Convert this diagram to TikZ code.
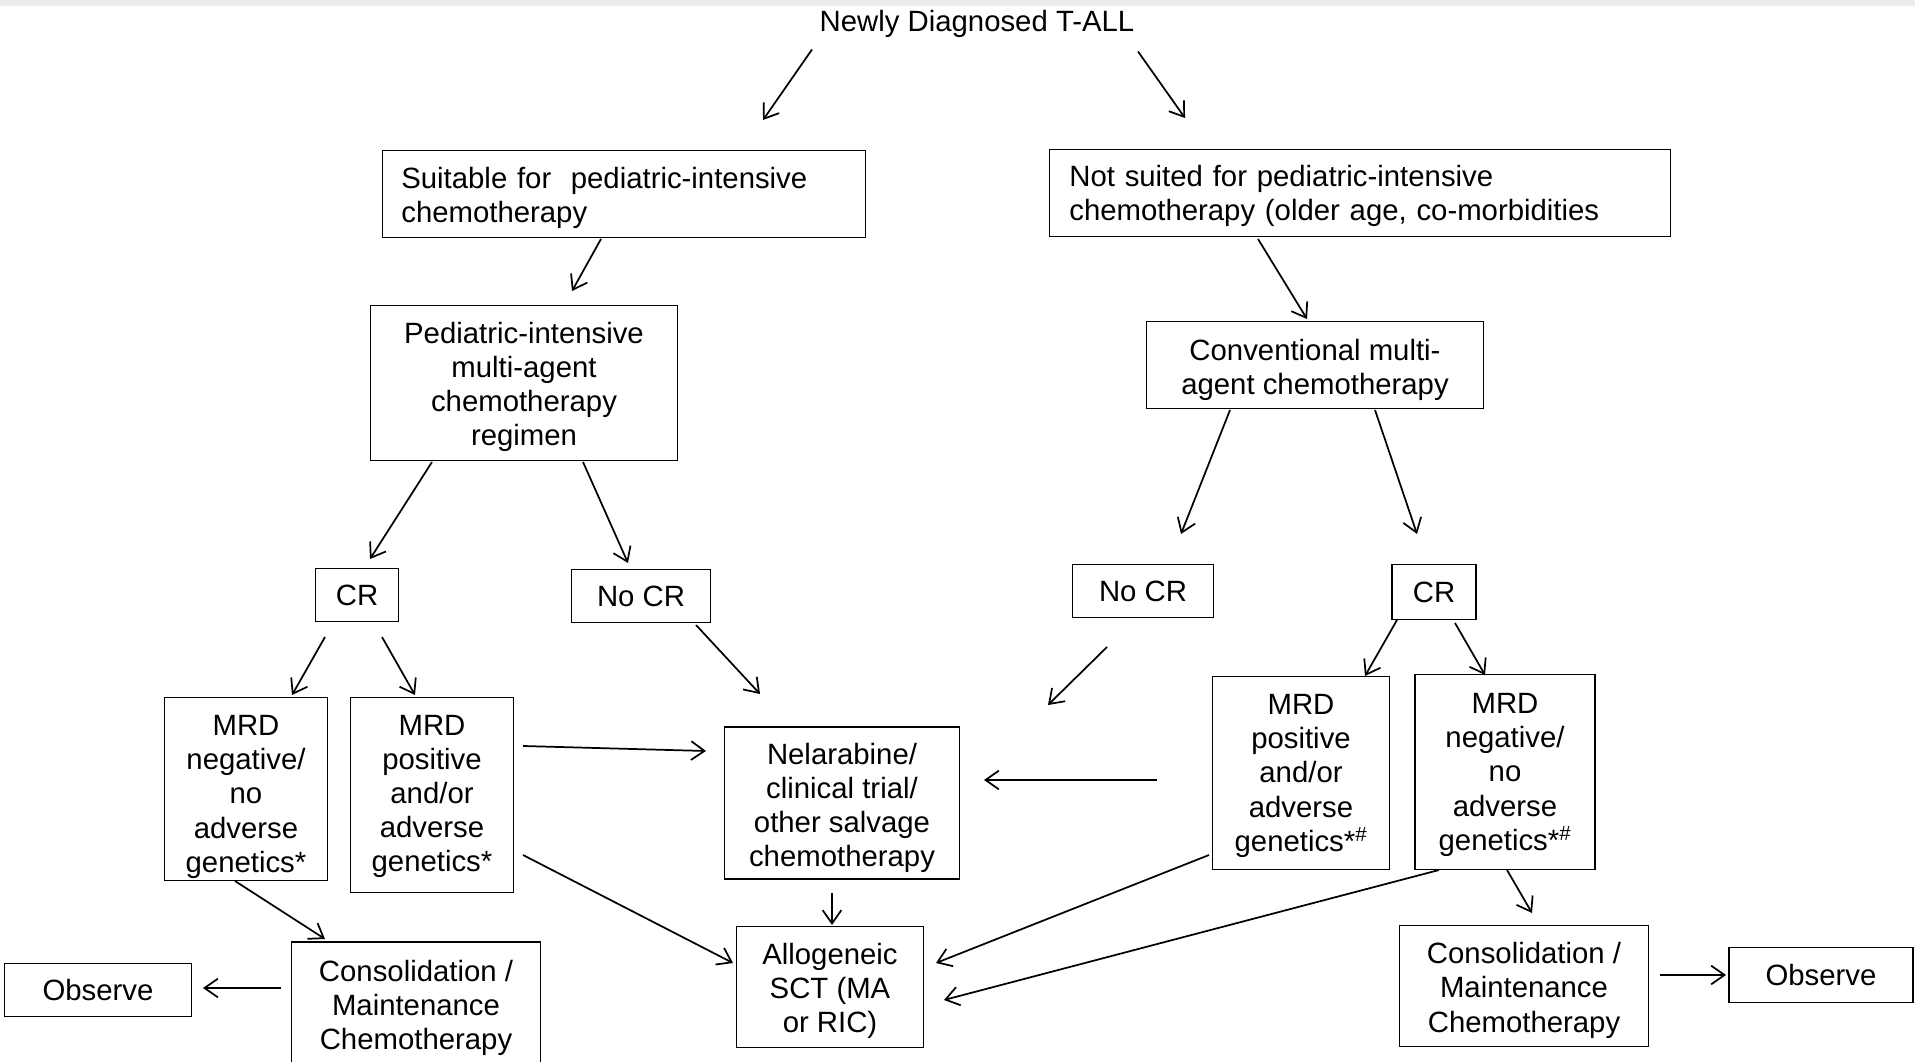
\documentclass[tikz,border=0pt]{standalone}
\usepackage{fontspec}
\setmainfont{Liberation Sans}
\usetikzlibrary{arrows.meta,calc}

\tikzset{
  box/.style={draw,line width=1pt,inner sep=0pt,align=center,font=\fontsize{22}{25.6}\selectfont},
  lbox/.style={box,align=left,inner xsep=14pt},
  arr/.style={line width=1.3pt,-{Straight Barb[length=10pt,width=14pt]}}
}
% strut to set the first line of a box a bit lower
\newcommand{\tp}[1]{\rule{0pt}{#1pt}}

\begin{document}
\begin{tikzpicture}[x=0.75pt,y=0.75pt,yscale=-1,xscale=1]
\useasboundingbox (0,0) rectangle (1915,1062);
%faint strip at the top
\fill [black!7] (0,0) rectangle (1915,6);

% Text Node
\node [font=\fontsize{22}{25.6}\selectfont,inner sep=0pt] (title) at (977,23.5) {Newly Diagnosed T-ALL};
% first split
\node [lbox,text width=334pt,minimum height=65pt] (suit) at (624,194) {\tp{22}Suitable for\ \ pediatric-intensive\\chemotherapy};
\node [lbox,text width=436pt,minimum height=65pt,inner xsep=15pt] (notsuit) at (1360,193) {\tp{20.5}Not suited for pediatric-intensive\\chemotherapy (older age, co-morbidities};
\node [box,minimum width=230pt,minimum height=116pt] (pedreg) at (524,383) {\tp{22}Pediatric-intensive\\multi-agent\\chemotherapy\\regimen};
\node [box,minimum width=253pt,minimum height=65pt] (conv) at (1315,365) {\tp{23.5}Conventional multi-\\agent chemotherapy};
% response
\node [box,minimum width=62pt,minimum height=40pt] (crL) at (357,595) {CR};
\node [box,minimum width=104pt,minimum height=40pt] (nocrL) at (641,596) {No CR};
\node [box,minimum width=106pt,minimum height=40pt] (nocrR) at (1143,591) {No CR};
\node [box,minimum width=63pt,minimum height=41pt] (crR) at (1434,592) {CR};
% MRD boxes
\node [box,minimum width=122pt,minimum height=137pt] (mrdnL) at (246,789) {\tp{27}MRD\\negative/\\no\\adverse\\genetics*};
\node [box,minimum width=122pt,minimum height=146pt] (mrdpL) at (432,795) {\tp{17.5}MRD\\positive\\and/or\\adverse\\genetics*};
\node [box,minimum width=133pt,minimum height=145pt] (mrdpR) at (1301,773) {\tp{19.4}MRD\\positive\\and/or\\adverse\\genetics*\textsuperscript{\#}};
\node [box,minimum width=135pt,minimum height=146pt] (mrdnR) at (1505,772) {\tp{19.4}MRD\\negative/\\no\\adverse\\genetics*\textsuperscript{\#}};
% treatment
\node [box,minimum width=176pt,minimum height=114pt] (nel) at (842,803) {\tp{23}Nelarabine/\\clinical trial/\\other salvage\\chemotherapy};
\node [box,minimum width=140pt,minimum height=91pt] (allo) at (830,987) {\tp{21.5}Allogeneic\\SCT (MA\\or RIC)};
\node [box,minimum width=187pt,minimum height=93pt] (consL) at (416,1004) {\tp{22}Consolidation /\\Maintenance\\Chemotherapy};
\node [box,minimum width=140pt,minimum height=40pt] (obsL) at (98,990) {Observe};
\node [box,minimum width=187pt,minimum height=91pt] (consR) at (1524,986) {\tp{22.5}Consolidation /\\Maintenance\\Chemotherapy};
\node [box,minimum width=138pt,minimum height=41pt] (obsR) at (1821,975) {Observe};

% arrows
\draw [arr] ($(title.center)+(-165,26)$) -- ($(suit.center)+(139,-74)$);
\draw [arr] ($(title.center)+(161,28)$) -- ($(notsuit.center)+(-175,-75)$);
\draw [arr] ($(suit.center)+(-23,45)$) -- ($(pedreg.center)+(48,-92)$);
\draw [arr] ($(notsuit.center)+(-102,46)$) -- ($(conv.center)+(-8,-46)$);
\draw [arr] ($(pedreg.center)+(-92,79)$) -- ($(crL.center)+(13,-36)$);
\draw [arr] ($(pedreg.center)+(59,79)$) -- ($(nocrL.center)+(-13,-33)$);
\draw [arr] ($(conv.center)+(-85,45)$) -- ($(nocrR.center)+(38,-57)$);
\draw [arr] ($(conv.center)+(60,45)$) -- ($(crR.center)+(-17,-58)$);
\draw [arr] ($(crL.center)+(-32,42)$) -- ($(mrdnL.center)+(46,-94)$);
\draw [arr] ($(crL.center)+(25,42)$) -- ($(mrdpL.center)+(-17,-100)$);
\draw [arr] ($(crR.center)+(-37,28)$) -- ($(mrdpR.center)+(64,-97)$);
\draw [arr] ($(crR.center)+(21,31)$) -- ($(mrdnR.center)+(-20,-97)$);
\draw [arr] ($(nocrL.center)+(55,29)$) -- ($(nel.center)+(-82,-109)$);
\draw [arr] ($(nocrR.center)+(-36,56)$) -- ($(nel.center)+(206,-98)$);
\draw [arr] ($(mrdpL.center)+(91,-49)$) -- ($(nel.center)+(-136,-52)$);
\draw [arr] ($(mrdpR.center)+(-144,7)$) -- ($(nel.center)+(142,-23)$);
\draw [arr] ($(mrdpL.center)+(91,60)$) -- ($(allo.center)+(-97,-24)$);
\draw [arr] ($(mrdpR.center)+(-92,82)$) -- ($(allo.center)+(106,-24)$);
\draw [arr] ($(mrdnR.center)+(-66,98)$) -- ($(allo.center)+(114,13)$);
\draw [arr] ($(nel.center)+(-10,90)$) -- ($(allo.center)+(2,-62)$);
\draw [arr] ($(mrdnL.center)+(-11,92)$) -- ($(consL.center)+(-91,-65)$);
\draw [arr] ($(consL.center)+(-135,-16)$) -- ($(obsL.center)+(105,-2)$);
\draw [arr] ($(mrdnR.center)+(2,98)$) -- ($(consR.center)+(8,-73)$);
\draw [arr] ($(consR.center)+(136,-11)$) -- ($(obsR.center)+(-95,0)$);

\end{tikzpicture}
\end{document}
